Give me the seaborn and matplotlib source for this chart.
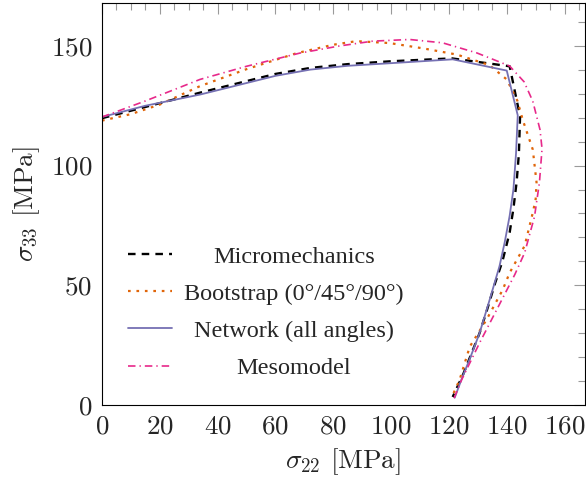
import matplotlib
matplotlib.use('Agg')
import matplotlib.pyplot as plt
import seaborn as sns
from matplotlib.ticker import MultipleLocator

# stress curves, sigma_22 / sigma_33 in MPa
micro_s22 = [0, 15, 34, 50, 60, 72, 85, 100, 121, 141, 144.6, 144.2, 143.4, 142.3, 141, 138.5, 136, 133,
             130.6, 125, 121.3]
micro_s33 = [119.8, 124.5, 130.5, 135.3, 138.3, 140.8, 142.4, 143.6, 144.8, 141.5, 120.5, 105, 93, 82, 72, 60,
             51, 39, 30, 13, 3.3]

boot_s22 = [0, 10, 20, 33.9, 50, 67.4, 80, 88, 99.5, 111, 122.7, 134, 140, 143.7, 145.5, 149, 150.3,
            150, 149, 146.2, 141, 138.6, 133, 127.2, 123.7, 121]
boot_s33 = [118.8, 121.5, 125.5, 133.2, 140.3, 147, 150.5, 152, 151.2, 149, 146.4, 142, 136, 127, 119.2, 106.7, 93,
            86, 80.3, 66.5, 55.2, 48.1, 35.6, 24.3, 10.5, 3.3]

net_s22 = [0, 15, 34, 50, 60, 72, 85, 100, 121.3, 140, 143.8, 143.2, 142.3, 141, 139.3, 137.5, 134.1, 130.6,
           127.3, 124.3, 122]
net_s33 = [120.3, 125, 129.7, 134.5, 137.5, 140.1, 141.7, 142.8, 144.4, 139.7, 121, 105, 90, 79, 68, 58, 44, 30,
           19.5, 10.5, 3]

meso_s22 = [0, 15, 33.9, 50, 68.4, 82.2, 93.6, 106.4, 117.8, 129.6, 134, 141, 146, 149, 151.5, 152.2,
            151.3, 149.6, 146.2, 142.8, 136.5, 130.6, 124.4, 121.5]
meso_s33 = [120.3, 127, 136, 141.5, 147, 150, 152, 152.7, 151.3, 147.1, 145, 141.6, 135, 126.9, 115, 107,
            92.9, 78.7, 63.6, 54.5, 39.7, 25.9, 10.5, 2]

labels = ['Micromechanics', 'Bootstrap (0°/45°/90°)', 'Network (all angles)', 'Mesomodel']

sns.set_theme(style='white')
plt.rcParams['font.family'] = 'serif'
plt.rcParams['font.serif'] = ['cmr10']
plt.rcParams['mathtext.fontset'] = 'cm'
plt.rcParams['axes.formatter.use_mathtext'] = True
plt.rcParams['axes.unicode_minus'] = False

fig = plt.figure(figsize=(5.86, 4.78), dpi=100)
ax = fig.add_axes([0.174, 0.153, 0.824, 0.841])

curves = [
    (micro_s22, micro_s33, dict(color='black', linewidth=1.7, linestyle=(0, (3.2, 2.6)))),
    (boot_s22, boot_s33, dict(color='#e0650a', linewidth=1.6, linestyle=(0, (1.2, 2.6)))),
    (net_s22, net_s33, dict(color='#7570b3', linewidth=1.3, linestyle='-')),
    (meso_s22, meso_s33, dict(color='#e7298a', linewidth=1.2, linestyle=(0, (4.5, 2.4, 0.8, 2.4)))),
]
for (xs, ys, style), name in zip(curves, labels):
    sns.lineplot(x=xs, y=ys, sort=False, estimator=None, ax=ax, label=name,
                 dash_capstyle='butt', **style)

ax.set_xlim(0, 167)
ax.set_ylim(0, 168)
ax.xaxis.set_major_locator(MultipleLocator(20))
ax.xaxis.set_minor_locator(MultipleLocator(5))
ax.yaxis.set_major_locator(MultipleLocator(50))
ax.yaxis.set_minor_locator(MultipleLocator(10))
ax.tick_params(which='both', direction='in', top=True, right=True, color='#9a9a9a',
               width=0.8, labelsize=19.5, pad=7)
ax.tick_params(which='major', length=8)
ax.tick_params(which='minor', length=4.8)
for sp in ax.spines.values():
    sp.set_color('black')
    sp.set_linewidth(0.8)
ax.grid(False)

ax.set_xlabel(r'$\sigma_{22}$ [MPa]', fontsize=19.5, labelpad=6)
ax.set_ylabel(r'$\sigma_{33}$ [MPa]', fontsize=19.5, labelpad=6)

leg = ax.legend(loc='center left', bbox_to_anchor=(0.054, 0.23), frameon=False,
                prop={'family': 'Liberation Serif', 'size': 17.5}, handlelength=1.81,
                handletextpad=0.5, labelspacing=0.62, borderpad=0, borderaxespad=0)

# centre the legend labels like the pgfplots legend
fig.canvas.draw()
rend = fig.canvas.get_renderer()
widths = [t.get_window_extent(rend).width for t in leg.get_texts()]
wmax = max(widths)
for t, w in zip(leg.get_texts(), widths):
    t.set_x((wmax - w) / 2)

fig.savefig('out.png', dpi=100)
